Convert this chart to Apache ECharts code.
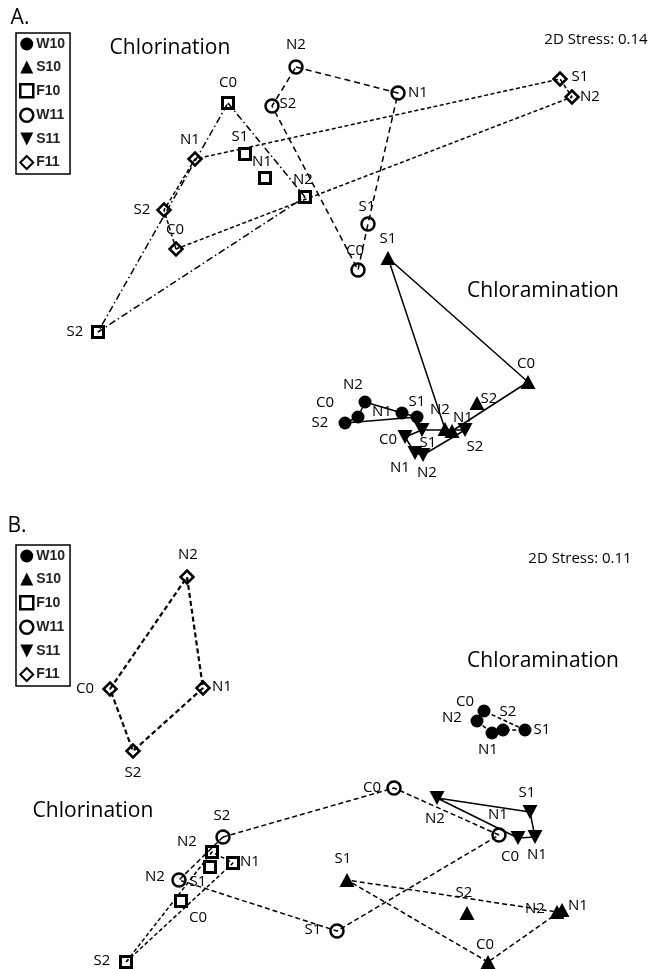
<!DOCTYPE html>
<html>
<head>
<meta charset="utf-8">
<script src="https://cdn.jsdelivr.net/npm/echarts@6/dist/echarts.min.js"></script>
<style>
html,body{margin:0;padding:0;background:#fff;}
#chart{width:655px;height:969px;}
</style>
</head>
<body>
<div id="chart"></div>
<script>
// ---- DATA ----
const samples = ['C0', 'N1', 'N2', 'S1', 'S2'];
const groups = ['W10', 'S10', 'F10', 'W11', 'S11', 'F11'];

// Panel A (NMDS coordinates, order: C0, N1, N2, S1, S2)
const A_W10 = [[0.28, -1.77], [0.72, -1.73], [0.35, -1.62], [0.87, -1.77], [0.15, -1.83]];
const A_S10 = [[1.98, -1.42], [1.22, -1.91], [1.15, -1.89], [0.58, -0.18], [1.47, -1.63]];
const A_F10 = [[-1.02, 1.37], [-0.65, 0.62], [-0.25, 0.43], [-0.85, 0.86], [-2.32, -0.92]];
const A_W11 = [[0.28, -0.30], [0.68, 1.47], [-0.34, 1.73], [0.38, 0.16], [-0.58, 1.34]];
const A_S11 = [[0.75, -1.97], [0.85, -2.13], [0.93, -2.15], [0.92, -1.90], [1.35, -1.90]];
const A_F11 = [[-1.54, -0.09], [-1.35, 0.81], [2.42, 1.43], [2.30, 1.61], [-1.66, 0.30]];

// Panel B
const B_W10 = [[1.54, 0.14], [1.62, -0.08], [1.47, 0.04], [1.95, -0.05], [1.73, -0.05]];
const B_S10 = [[1.58, -2.37], [2.32, -1.85], [2.27, -1.87], [0.17, -1.55], [1.37, -1.88]];
const B_F10 = [[-1.49, -1.76], [-0.97, -1.38], [-1.18, -1.27], [-1.20, -1.42], [-2.04, -2.37]];
const B_W11 = [[0.64, -0.63], [1.69, -1.10], [-1.51, -1.55], [0.07, -2.06], [-1.07, -1.12]];
const B_S11 = [[1.88, -1.13], [2.05, -1.12], [1.07, -0.73], [2.00, -0.87], null];
const B_F11 = [[-2.20, 0.36], [-1.27, 0.37], [-1.43, 1.48], null, [-1.97, -0.26]];

// Connection paths (sample order of the drawn lines)
const A_paths = {
  W10: ['S2', 'C0', 'N2', 'N1', 'S1', 'S2'],
  S10: ['S1', 'N2', 'N1', 'C0', 'S1'],
  F10: ['C0', 'N2', 'S2', 'C0'],
  W11: ['N2', 'N1', 'S1', 'C0', 'S2', 'N2'],
  S11: ['C0', 'S1', 'S2', 'N2', 'N1', 'C0'],
  F11: ['C0', 'S2', 'N1', 'S1', 'N2', 'C0']
};
const B_paths = {
  W10: ['C0', 'N2', 'N1', 'S2', 'S1', 'C0'],
  S10: ['C0', 'S1', 'N2', 'N1', 'C0'],
  F10: ['S2', 'N2', 'N1', 'S2'],
  W11: ['S2', 'C0', 'N1', 'S1', 'N2', 'S2'],
  S11: ['N2', 'S1', 'N1', 'C0', 'N2'],
  F11: ['C0', 'N2', 'N1', 'S2', 'C0']
};

// ---- STYLES ----
const A_labelOff = {
  W10: [[-33, -14], [-20, -1], [-12, -17], [0, -15], [-25, 0]],
  S10: [[-2, -18], [11, -13], [-5, -19], [0, -19], [12, -4]],
  F10: [[0, -20], [-3, -16], [-2, -17], [-5, -17], [-23, 0]],
  W11: [[-3, -19], [20, 0], [0, -22], [-1, -17], [16, -2]],
  S11: [[-17, 3], [-15, 15], [4, 18], [6, 13], [10, 17]],
  F11: [[-1, -19], [-5, -19], [18, 0], [20, -2], [-22, 0]]
};
const B_labelOff = {
  W10: [[-19, -9], [-4, 17], [-25, -3], [17, 0], [5, -18]],
  S10: [[-3, -17], [16, -4], [-22, -3], [-4, -21], [-3, -20]],
  F10: [[17, 17], [17, -1], [-25, -10], [-12, 15], [-24, -1]],
  W11: [[-22, 0], [-1, -20], [-24, -3], [-24, -1], [-1, -21]],
  S11: [[-8, 19], [2, 18], [-2, 21], [-3, -19], [0, 0]],
  F11: [[-25, 0], [19, -1], [1, -22], [0, 0], [0, 22]]
};
const markerStyle = {
  W10: { symbol: 'circle', size: 13, rotate: 0, open: false, bw: 0 },
  S10: { symbol: 'triangle', size: [15, 14], rotate: 0, open: false, bw: 0 },
  F10: { symbol: 'rect', size: 11, rotate: 0, open: true, bw: 3 },
  W11: { symbol: 'circle', size: 13, rotate: 0, open: true, bw: 2.5 },
  S11: { symbol: 'triangle', size: [15, 14], rotate: 180, open: false, bw: 0 },
  F11: { symbol: 'diamond', size: 13, rotate: 0, open: true, bw: 2.5 }
};
const A_lineStyle = {
  W10: { type: 'solid', width: 1.5 },
  S10: { type: 'solid', width: 1.5 },
  F10: { type: [7, 3, 1.5, 3], width: 1.5 },
  W11: { type: [6, 4], width: 1.5 },
  S11: { type: 'solid', width: 1.5 },
  F11: { type: [4, 2.5], width: 1.5 }
};
const B_lineStyle = {
  W10: { type: [4, 2.5], width: 1.5 },
  S10: { type: [5, 3], width: 1.5 },
  F10: { type: [4, 2.5], width: 1.5 },
  W11: { type: [5, 3], width: 1.5 },
  S11: { type: 'solid', width: 1.5 },
  F11: { type: [5, 3], width: 2.2 }
};

const panelData = {
  A: { W10: A_W10, S10: A_S10, F10: A_F10, W11: A_W11, S11: A_S11, F11: A_F11 },
  B: { W10: B_W10, S10: B_S10, F10: B_F10, W11: B_W11, S11: B_S11, F11: B_F11 }
};

const labelFont = 'Open Sans';
const series = [];
['A', 'B'].forEach((panel, pi) => {
  const data = panelData[panel];
  const paths = panel === 'A' ? A_paths : B_paths;
  const lstyles = panel === 'A' ? A_lineStyle : B_lineStyle;
  const offs = panel === 'A' ? A_labelOff : B_labelOff;
  groups.forEach(g => {
    const pts = data[g];
    series.push({
      name: g + ' path ' + panel,
      type: 'line',
      xAxisIndex: pi, yAxisIndex: pi,
      symbol: 'none',
      silent: true,
      z: 2,
      lineStyle: { color: '#000', width: lstyles[g].width, type: lstyles[g].type, opacity: 1 },
      data: paths[g].map(n => pts[samples.indexOf(n)])
    });
  });
  groups.forEach(g => {
    const pts = data[g];
    const m = markerStyle[g];
    series.push({
      name: g,
      type: 'scatter',
      xAxisIndex: pi, yAxisIndex: pi,
      z: 3,
      symbol: m.symbol,
      symbolSize: m.size,
      symbolRotate: m.rotate,
      itemStyle: m.open
        ? { color: 'rgba(255,255,255,0)', borderColor: '#000', borderWidth: m.bw, opacity: 1 }
        : { color: '#000', opacity: 1 },
      label: {
        show: true, position: 'inside', formatter: '{b}', color: '#000',
        fontFamily: labelFont, fontSize: 15, align: 'center', verticalAlign: 'middle'
      },
      data: samples.map((n, i) => pts[i] ? { name: n, value: pts[i], label: { offset: offs[g][i] } } : null)
        .filter(d => d)
    });
  });
});

function legendFor(top) {
  return {
    orient: 'vertical', left: 16, top: top,
    itemWidth: 13, itemHeight: 13, itemGap: 9,
    padding: [4, 5, 4, 3],
    borderColor: '#000', borderWidth: 1.5,
    selectedMode: false,
    textStyle: { fontFamily: 'Liberation Sans', fontSize: 14, fontWeight: 'bold', color: '#222', padding: [0, 0, 0, -2] },
    data: [
      { name: 'W10', icon: 'circle', itemStyle: { color: '#000', borderWidth: 0 } },
      { name: 'S10', icon: 'triangle', itemStyle: { color: '#000', borderWidth: 0 } },
      { name: 'F10', icon: 'rect', itemStyle: { color: '#fff', borderColor: '#000', borderWidth: 2.5 } },
      { name: 'W11', icon: 'circle', itemStyle: { color: '#fff', borderColor: '#000', borderWidth: 2.5 } },
      { name: 'S11', icon: 'path://M0,0 L10,0 L5,10 Z', itemStyle: { color: '#000', borderWidth: 0 } },
      { name: 'F11', icon: 'diamond', itemStyle: { color: '#fff', borderColor: '#000', borderWidth: 2 } }
    ]
  };
}

function txt(text, x, y, size) {
  return {
    type: 'text', x: x, y: y, silent: true,
    style: { text: text, fill: '#000', font: size + 'px "Open Sans"', textAlign: 'center', textVerticalAlign: 'middle' }
  };
}

const option = {
  animation: false,
  backgroundColor: '#fff',
  grid: [
    { left: 0, top: 0, width: 655, height: 480 },
    { left: 0, top: 485, width: 655, height: 480 }
  ],
  xAxis: [
    { type: 'value', gridIndex: 0, min: -3.3, max: 3.25, show: false },
    { type: 'value', gridIndex: 1, min: -3.3, max: 3.25, show: false }
  ],
  yAxis: [
    { type: 'value', gridIndex: 0, min: -2.4, max: 2.4, show: false },
    { type: 'value', gridIndex: 1, min: -2.4, max: 2.4, show: false }
  ],
  legend: [legendFor(33), legendFor(545)],
  graphic: [
    txt('A.', 20, 18, 21),
    txt('Chlorination', 170, 48, 21),
    txt('2D Stress: 0.14', 596, 40, 15),
    txt('Chloramination', 543, 291, 21),
    txt('B.', 17, 526, 21),
    txt('2D Stress: 0.11', 580, 559, 15),
    txt('Chloramination', 543, 661, 21),
    txt('Chlorination', 93, 811, 21)
  ],
  series: series
};

const chart = echarts.init(document.getElementById('chart'), null, { renderer: 'canvas' });
chart.setOption(option);
</script>
</body>
</html>
